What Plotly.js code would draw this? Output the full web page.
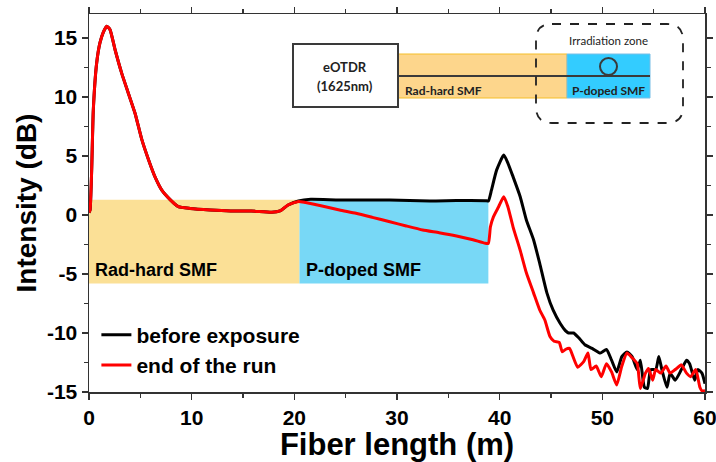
<!DOCTYPE html>
<html>
<head>
<meta charset="utf-8">
<script src="https://cdn.plot.ly/plotly-3.0.1.min.js"></script>
<style>html,body{margin:0;padding:0;background:#fff;}#chart{width:716px;height:462px;}</style>
</head>
<body>
<div id="chart"></div>
<script>
// ---- data ----
const seriesNames = ["before exposure", "end of the run"];

const xBefore = [0,0.1,0.26,0.42,0.75,1.07,1.4,1.73,2.05,2.54,3.19,3.84,4.49,5.14,5.79,6.44,7.09,7.9,8.7,9.85,11.8,13.8,15.8,17.8,18.6,19.4,20.4,21.6,24.4,29.3,33.2,35.8,38.6,38.9,39.2,39.7,40.4,40.8,41.3,42.0,42.6,43.3,43.9,44.6,45.2,45.9,46.4,46.7,47.2,47.7,48.3,49.0,49.8,50.4,50.9,51.4,51.9,52.4,52.9,53.4,53.7,54.1,54.4,54.7,55.2,55.5,55.8,56.3,56.6,57.1,57.7,58.2,58.5,59.0,59.3,59.7,60];
const yBefore = [0.2,0.4,3.8,8.9,12.9,14.6,15.5,16.0,15.7,14.0,12.0,10.3,8.6,6.4,4.7,3.2,2.1,1.3,0.7,0.55,0.42,0.34,0.34,0.23,0.34,0.85,1.19,1.33,1.27,1.27,1.19,1.22,1.21,1.19,2.1,3.8,5.08,4.4,3.25,1.55,-0.42,-2.1,-4.1,-6.6,-8.05,-9.2,-9.8,-10.0,-10.0,-10.4,-11.0,-11.3,-11.7,-11.4,-12.3,-13.3,-12.0,-11.6,-12.0,-13.1,-12.3,-14.6,-14.7,-13.1,-13.1,-12.0,-13.1,-14.6,-13.4,-14.0,-13.1,-12.3,-12.6,-14.0,-13.1,-13.4,-14.3];

const xRun = [0,0.1,0.26,0.42,0.75,1.07,1.4,1.73,2.05,2.54,3.19,3.84,4.49,5.14,5.79,6.44,7.09,7.9,8.7,9.85,11.8,13.8,15.8,17.8,18.6,19.4,20.4,21.1,22.7,24.4,26.0,27.6,29.3,30.9,32.5,34.1,35.8,37.4,38.6,38.9,39.1,39.4,39.9,40.4,40.8,41.3,42.0,42.6,43.3,43.9,44.4,44.9,45.3,45.8,46.1,46.4,46.8,47.1,47.6,48.2,48.6,48.9,49.4,49.9,50.4,50.9,51.4,51.9,52.4,52.9,53.4,53.7,54.2,54.5,54.9,55.2,55.7,56.2,56.6,57.1,57.7,58.2,58.6,59.1,59.5,59.7,60];
const yRun = [0.2,0.4,3.8,8.9,12.9,14.6,15.5,16.0,15.7,14.0,12.0,10.3,8.6,6.4,4.7,3.2,2.1,1.3,0.7,0.55,0.42,0.34,0.34,0.23,0.34,0.85,1.15,1.05,0.76,0.42,0.14,-0.2,-0.57,-0.93,-1.27,-1.5,-1.78,-2.1,-2.4,-2.4,-1.0,-0.14,0.7,1.55,0.7,-1.0,-3.0,-4.9,-6.6,-8.05,-8.9,-10.3,-10.7,-10.8,-11.6,-11.4,-11.3,-11.9,-12.9,-12.4,-11.7,-13.1,-12.8,-13.7,-12.6,-13.3,-14.4,-12.8,-11.7,-12.1,-12.6,-14.7,-13.4,-13.0,-14.0,-13.1,-13.4,-12.8,-13.4,-13.1,-12.7,-13.4,-13.7,-13.1,-14.6,-14.9,-14.9];

// shaded fibre sections (data units)
const sectionNames = ["Rad-hard SMF", "P-doped SMF"];
const sectionStart = [0, 20.5];
const sectionEnd = [20.5, 38.9];
const sectionTop = [1.3, 1.25];
const sectionBottom = [-5.8, -5.8];
const sectionColors = ["rgb(251,224,150)", "rgb(120,216,246)"];

const xTickVals = [0,10,20,30,40,50,60];
const xTickText = ["0","10","20","30","40","50","60"];
const yTickVals = [-15,-10,-5,0,5,10,15];
const yTickText = ["-15","-10","-5","0","5","10","15"];

// ---- figure ----
const boldFont = {family: "Liberation Sans, Arial, sans-serif", color: "#000", weight: "bold"};
const insetFont = {family: "Lato, Open Sans, sans-serif", color: "#222", weight: "bold", size: 12};

const traces = [
  {x: xBefore, y: yBefore, name: seriesNames[0], mode: "lines",
   line: {color: "#000000", width: 3, shape: "spline", smoothing: 0.5}},
  {x: xRun, y: yRun, name: seriesNames[1], mode: "lines",
   line: {color: "#ff0000", width: 3, shape: "spline", smoothing: 0.5}}
];

const shapes = [];
const annotations = [];
for (let i = 0; i < sectionNames.length; i++) {
  shapes.push({type: "rect", xref: "x", yref: "y", layer: "below",
    x0: sectionStart[i], x1: sectionEnd[i], y0: sectionBottom[i], y1: sectionTop[i],
    fillcolor: sectionColors[i], line: {width: 0}});
  annotations.push({xref: "x", yref: "y", x: sectionStart[i] + 0.4, y: -4.65,
    xanchor: "left", yanchor: "middle", showarrow: false, text: sectionNames[i],
    font: Object.assign({}, boldFont, {size: 18})});
}

// inset schematic (paper coordinates)
const px = v => (v - 89) / 616;
const py = v => (392 - v) / 378;
shapes.push(
  {type: "rect", xref: "paper", yref: "paper", x0: px(398), x1: px(567), y0: py(98), y1: py(54),
   fillcolor: "rgb(253,214,140)", line: {color: "rgb(245,190,40)", width: 1}},
  {type: "rect", xref: "paper", yref: "paper", x0: px(567), x1: px(650), y0: py(98), y1: py(54),
   fillcolor: "rgb(51,204,255)", line: {color: "rgb(120,190,230)", width: 1}},
  {type: "line", xref: "paper", yref: "paper", x0: px(398), x1: px(650), y0: py(76), y1: py(76),
   line: {color: "#3a3a3a", width: 2}},
  {type: "circle", xref: "paper", yref: "paper", x0: px(600), x1: px(617), y0: py(75), y1: py(58),
   line: {color: "#3a3a3a", width: 2}},
  {type: "rect", xref: "paper", yref: "paper", x0: px(293), x1: px(398), y0: py(107), y1: py(44),
   fillcolor: "#ffffff", line: {color: "#3a3a3a", width: 2}}
);
// dashed rounded rectangle (irradiation zone)
(function(){
  const L = px(536), R = px(683), T = py(24), B = py(123);
  const rx = 16/616, ry = 16/378;
  const d = `M ${L+rx},${T} L ${R-rx},${T} Q ${R},${T} ${R},${T-ry} L ${R},${B+ry} Q ${R},${B} ${R-rx},${B} L ${L+rx},${B} Q ${L},${B} ${L},${B+ry} L ${L},${T-ry} Q ${L},${T} ${L+rx},${T} Z`;
  shapes.push({type: "path", xref: "paper", yref: "paper", path: d,
    line: {color: "#222", width: 1.8, dash: "dash"}});
})();
const mid = {xanchor: "center", yanchor: "middle", showarrow: false, xref: "paper", yref: "paper"};
annotations.push(
  Object.assign({x: px(345), y: py(67), text: "eOTDR", font: Object.assign({}, insetFont, {size: 13})}, mid),
  Object.assign({x: px(345), y: py(86), text: "(1625nm)", font: Object.assign({}, insetFont, {size: 13})}, mid),
  Object.assign({x: px(608), y: py(41), text: "Irradiation zone", font: Object.assign({}, insetFont, {weight: "normal", size: 11.5})}, mid),
  Object.assign({x: px(443), y: py(90), text: "Rad-hard SMF", font: insetFont}, mid),
  Object.assign({x: px(608), y: py(90), text: "P-doped SMF", font: insetFont}, mid)
);

const axisCommon = {
  showgrid: false, zeroline: false, showline: true, linecolor: "#333", linewidth: 1.5,
  mirror: "ticks", ticks: "outside", ticklen: 6, tickwidth: 1.5, tickcolor: "#333",
  ticklabeloverflow: "allow",
  tickfont: Object.assign({}, boldFont, {size: 21}),
  minor: {ticks: "outside", ticklen: 4, tickwidth: 1.2, tickcolor: "#333"}
};

const layout = {
  width: 716, height: 462,
  margin: {l: 89, r: 11, t: 14, b: 70},
  paper_bgcolor: "#fff", plot_bgcolor: "#fff",
  showlegend: true,
  legend: {x: 0.012, y: 0.205, xanchor: "left", yanchor: "top", bgcolor: "rgba(0,0,0,0)",
    font: Object.assign({}, boldFont, {size: 21}), tracegroupgap: 0, itemwidth: 30},
  xaxis: Object.assign({}, axisCommon, {
    range: [0, 60], tickvals: xTickVals, ticktext: xTickText,
    minor: Object.assign({}, axisCommon.minor, {dtick: 5, tick0: 0}),
    title: {text: "Fiber length (m)", font: Object.assign({}, boldFont, {size: 31}), standoff: 3}
  }),
  yaxis: Object.assign({}, axisCommon, {
    range: [-15, 17.03], tickvals: yTickVals, ticktext: yTickText,
    minor: Object.assign({}, axisCommon.minor, {dtick: 2.5, tick0: 0}),
    title: {text: "Intensity (dB)", font: Object.assign({}, boldFont, {size: 28}), standoff: 2}
  }),
  shapes: shapes,
  annotations: annotations
};

Plotly.newPlot("chart", traces, layout, {displayModeBar: false, staticPlot: true});
</script>
</body>
</html>
